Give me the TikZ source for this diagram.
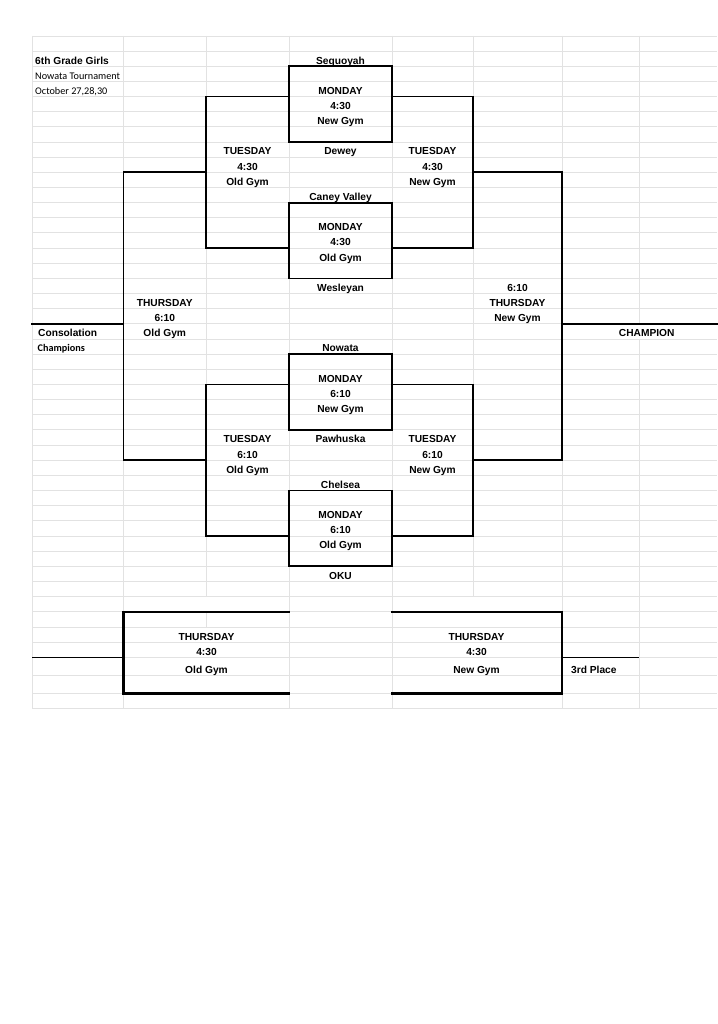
\documentclass[tikz,border=0pt]{standalone}
\usepackage{fontspec}
\setmainfont{Liberation Sans}
\newfontfamily\calfont{Carlito}
\definecolor{gridgray}{HTML}{E2E2E2}
\tikzset{
  gridline/.style={draw=gridgray, line width=0.9pt},
  brk/.style={draw=black, line width=1.8pt, line join=miter, line cap=rect},
  brkthick/.style={draw=black, line width=2.4pt, line join=miter, line cap=rect},
  brkthin/.style={draw=black, line width=1.4pt},
  lbl/.style={font=\bfseries\fontsize{10.2}{12}\selectfont, anchor=base, inner sep=0pt},
  lbll/.style={lbl, anchor=base west},
  callbl/.style={font=\calfont\fontsize{10.2}{12}\selectfont, anchor=base west, inner sep=0pt},
  calbold/.style={font=\calfont\bfseries\fontsize{10.2}{12}\selectfont, anchor=base west, inner sep=0pt}
}
\begin{document}
\begin{tikzpicture}[x=1pt,y=-1pt]
\useasboundingbox[fill=white] (0,0) rectangle (717,1024);
% ---- spreadsheet grid ----
\foreach \k in {0,...,38} {
  \draw[gridline] (32,{36+15.15*\k}) -- (717,{36+15.15*\k});
}
\foreach \yy in {627,642.3,657.3,675.3,693.3,708.3} {
  \draw[gridline] (32,\yy) -- (717,\yy);
}
\foreach \xx in {32,123.5,289,392,562} {
  \draw[gridline] (\xx,36) -- (\xx,708.3);
}
\foreach \xx in {206,473} {
  \draw[gridline] (\xx,36) -- (\xx,596.55);
}
\draw[gridline] (206,611.7) -- (206,627);
\draw[gridline] (639,36) -- (639,323.85);
\draw[gridline] (639,339) -- (639,708.3);
% ---- first-round boxes ----
\draw[brk] (289,66.3) rectangle (392,142.05);
\draw[brk] (289,202.65) rectangle (392,278.4);
\draw[brk] (289,354.15) rectangle (392,429.9);
\draw[brk] (289,490.5) rectangle (392,566.25);
% ---- second-round brackets ----
\draw[brk] (289,96.6) -- (206,96.6) -- (206,248.1) -- (289,248.1);
\draw[brk] (392,96.6) -- (473,96.6) -- (473,248.1) -- (392,248.1);
\draw[brk] (289,384.45) -- (206,384.45) -- (206,535.95) -- (289,535.95);
\draw[brk] (392,384.45) -- (473,384.45) -- (473,535.95) -- (392,535.95);
% ---- third-round brackets ----
\draw[brk] (206,172.35) -- (123.5,172.35) -- (123.5,460.2) -- (206,460.2);
\draw[brk] (473,172.35) -- (562,172.35) -- (562,460.2) -- (473,460.2);
\draw[brk] (123.5,323.85) -- (32,323.85);
\draw[brk] (562,323.85) -- (717,323.85);
% ---- bottom brackets ----
\draw[brkthick] (288.5,612) -- (123.5,612) -- (123.5,693.3) -- (288.5,693.3);
\draw[brkthin] (123.5,657.3) -- (32,657.3);
\draw[brkthick] (392,612) -- (562,612) -- (562,693.3) -- (392,693.3);
\draw[brkthin] (562,657.3) -- (639,657.3);
% ---- header ----
\node[lbll] (title) at (35,64.1) {6th Grade Girls};
\node[callbl] (tourn) at (35,79.25) {Nowata Tournament};
\node[callbl] (dates) at (35,94.4) {October 27,28,30};
% ---- top half ----
\node[lbl] (sequoyah) at (340.5,64.1) {Sequoyah};
\node[lbl] (m1a) at (340.5,94.4) {MONDAY};
\node[lbl] (m1b) at (340.5,109.55) {4:30};
\node[lbl] (m1c) at (340.5,124.7) {New Gym};
\node[lbl] (dewey) at (340.5,155.0) {Dewey};
\node[lbl] (t1a) at (247.5,155.0) {TUESDAY};
\node[lbl] (t1b) at (247.5,170.15) {4:30};
\node[lbl] (t1c) at (247.5,185.3) {Old Gym};
\node[lbl] (t2a) at (432.5,155.0) {TUESDAY};
\node[lbl] (t2b) at (432.5,170.15) {4:30};
\node[lbl] (t2c) at (432.5,185.3) {New Gym};
\node[lbl] (caney) at (340.5,200.45) {Caney Valley};
\node[lbl] (m2a) at (340.5,230.75) {MONDAY};
\node[lbl] (m2b) at (340.5,245.9) {4:30};
\node[lbl] (m2c) at (340.5,261.05) {Old Gym};
\node[lbl] (wesleyan) at (340.5,291.35) {Wesleyan};
% ---- middle ----
\node[lbl] (th1a) at (164.75,306.5) {THURSDAY};
\node[lbl] (th1b) at (164.75,321.65) {6:10};
\node[lbl] (th1c) at (164.75,336.8) {Old Gym};
\node[lbl] (th2a) at (517.5,291.35) {6:10};
\node[lbl] (th2b) at (517.5,306.5) {THURSDAY};
\node[lbl] (th2c) at (517.5,321.65) {New Gym};
\node[lbll] (consol) at (38,336.8) {Consolation};
\node[calbold] (champs) at (37.5,351.95) {Champions};
\node[lbl] (champion) at (646.7,336.8) {CHAMPION};
% ---- bottom half ----
\node[lbl] (nowata) at (340.5,351.95) {Nowata};
\node[lbl] (m3a) at (340.5,382.25) {MONDAY};
\node[lbl] (m3b) at (340.5,397.4) {6:10};
\node[lbl] (m3c) at (340.5,412.55) {New Gym};
\node[lbl] (pawhuska) at (340.5,442.85) {Pawhuska};
\node[lbl] (t3a) at (247.5,442.85) {TUESDAY};
\node[lbl] (t3b) at (247.5,458.0) {6:10};
\node[lbl] (t3c) at (247.5,473.15) {Old Gym};
\node[lbl] (t4a) at (432.5,442.85) {TUESDAY};
\node[lbl] (t4b) at (432.5,458.0) {6:10};
\node[lbl] (t4c) at (432.5,473.15) {New Gym};
\node[lbl] (chelsea) at (340.5,488.3) {Chelsea};
\node[lbl] (m4a) at (340.5,518.6) {MONDAY};
\node[lbl] (m4b) at (340.5,533.75) {6:10};
\node[lbl] (m4c) at (340.5,548.9) {Old Gym};
\node[lbl] (oku) at (340.5,579.2) {OKU};
% ---- consolation / third place ----
\node[lbl] (b1a) at (206.5,640.1) {THURSDAY};
\node[lbl] (b1b) at (206.5,655.4) {4:30};
\node[lbl] (b1c) at (206.5,673.4) {Old Gym};
\node[lbl] (b2a) at (476.5,640.1) {THURSDAY};
\node[lbl] (b2b) at (476.5,655.4) {4:30};
\node[lbl] (b2c) at (476.5,673.4) {New Gym};
\node[lbll] (third) at (571,673.4) {3rd Place};
\end{tikzpicture}
\end{document}
